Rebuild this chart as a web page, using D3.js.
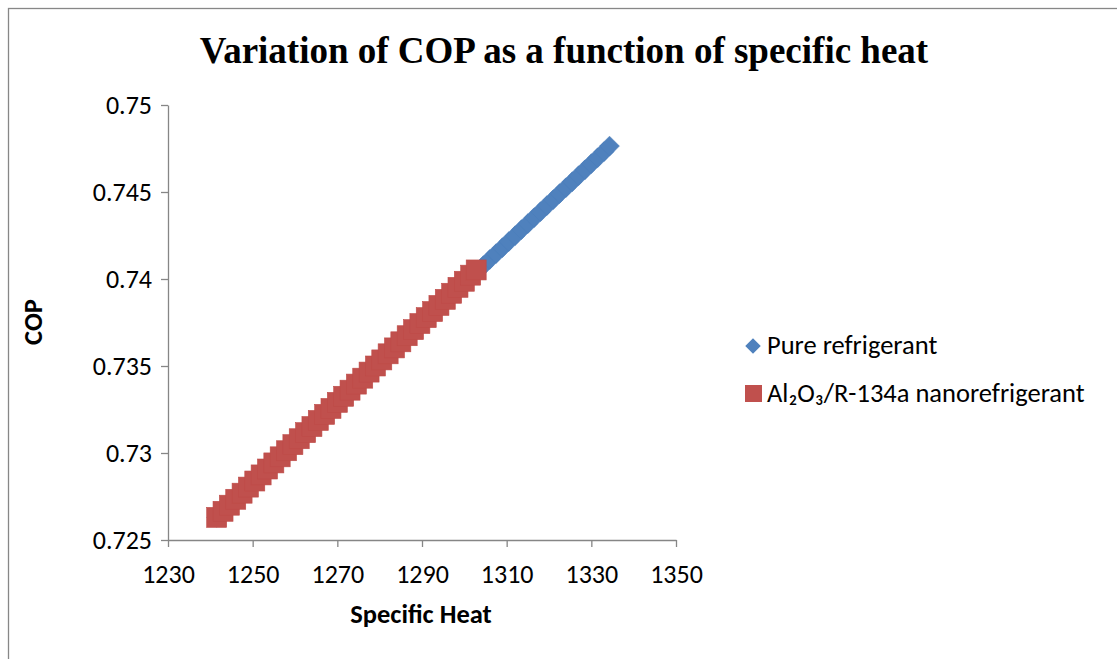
<!DOCTYPE html>
<html lang="en">
<head>
<meta charset="UTF-8">
<title>Variation of COP as a function of specific heat</title>
<style type="text/css">
	body { margin: 0; background: #fff; }
	svg text { font-family: Carlito, Calibri, Lato, sans-serif; fill: #000; }
	.title { font-family: "Liberation Serif", "Times New Roman", serif !important; font-weight: bold; font-size: 37px; }
	.axis text { font-size: 26px; }
	.axis path, .axis line { fill: none; stroke: #868686; stroke-width: 1.3px; }
	.label { font-size: 26.5px; font-weight: bold; }
	.legend text { font-size: 26.5px; }
</style>
<script src="https://cdn.jsdelivr.net/npm/d3@7/dist/d3.min.js"></script>
</head>
<body>
<script type="text/javascript">

// pure refrigerant (blue diamonds)
var pureHeat = [1241.5, 1243.0, 1244.5, 1246.0, 1247.5, 1249.0, 1250.5, 1252.0, 1253.5, 1255.0,
	1256.5, 1258.0, 1259.5, 1261.0, 1262.5, 1264.0, 1265.5, 1267.0, 1268.5, 1270.0,
	1271.5, 1273.0, 1274.5, 1276.0, 1277.5, 1279.0, 1280.5, 1282.0, 1283.5, 1285.0,
	1286.5, 1288.0, 1289.5, 1291.0, 1292.5, 1294.0, 1295.5, 1297.0, 1298.5, 1300.0,
	1301.5, 1303.0, 1304.5, 1306.0, 1307.5, 1309.0, 1310.5, 1312.0, 1313.5, 1315.0,
	1316.5, 1318.0, 1319.5, 1321.0, 1322.5, 1324.0, 1325.5, 1327.0, 1328.5, 1330.0,
	1331.5, 1333.0, 1334.3];
var pureCop = [0.72630, 0.72664, 0.72699, 0.72733, 0.72768, 0.72802, 0.72837, 0.72871, 0.72906, 0.72940,
	0.72975, 0.73009, 0.73043, 0.73078, 0.73112, 0.73147, 0.73181, 0.73216, 0.73250, 0.73285,
	0.73319, 0.73354, 0.73388, 0.73422, 0.73457, 0.73491, 0.73526, 0.73560, 0.73595, 0.73629,
	0.73664, 0.73698, 0.73733, 0.73767, 0.73801, 0.73836, 0.73870, 0.73905, 0.73939, 0.73974,
	0.74008, 0.74043, 0.74077, 0.74112, 0.74146, 0.74180, 0.74215, 0.74249, 0.74284, 0.74318,
	0.74353, 0.74387, 0.74422, 0.74456, 0.74491, 0.74525, 0.74559, 0.74594, 0.74628, 0.74663,
	0.74697, 0.74732, 0.74764];

// Al2O3/R-134a nanorefrigerant (red squares)
var nanoHeat = [1241.5, 1243.0, 1244.5, 1246.0, 1247.5, 1249.0, 1250.5, 1252.0, 1253.5, 1255.0,
	1256.5, 1258.0, 1259.5, 1261.0, 1262.5, 1264.0, 1265.5, 1267.0, 1268.5, 1270.0,
	1271.5, 1273.0, 1274.5, 1276.0, 1277.5, 1279.0, 1280.5, 1282.0, 1283.5, 1285.0,
	1286.5, 1288.0, 1289.5, 1291.0, 1292.5, 1294.0, 1295.5, 1297.0, 1298.5, 1300.0,
	1301.5, 1302.8];
var nanoCop = [0.72630, 0.72665, 0.72700, 0.72734, 0.72769, 0.72804, 0.72839, 0.72874, 0.72908, 0.72943,
	0.72978, 0.73013, 0.73048, 0.73082, 0.73117, 0.73152, 0.73187, 0.73222, 0.73256, 0.73291,
	0.73326, 0.73361, 0.73396, 0.73430, 0.73465, 0.73500, 0.73535, 0.73570, 0.73604, 0.73639,
	0.73674, 0.73709, 0.73744, 0.73778, 0.73813, 0.73848, 0.73883, 0.73918, 0.73952, 0.73987,
	0.74022, 0.74052];

var xTicks = [1230, 1250, 1270, 1290, 1310, 1330, 1350];
var yTicks = [0.725, 0.73, 0.735, 0.74, 0.745, 0.75];
var seriesNames = ['Pure refrigerant', 'Al\u2082O\u2083/R-134a nanorefrigerant'];
var seriesColors = ['#4F81BD', '#C0504D'];

var width = 1117, height = 659;
var margin = {top: 105, left: 168, right: 441, bottom: 119};

var svg = d3.select('body').append('svg')
	.attr('width', width)
	.attr('height', height);

// chart frame
svg.append('rect')
	.attr('x', 8.5).attr('y', 8.5)
	.attr('width', width + 20).attr('height', height + 20)
	.attr('fill', 'none').attr('stroke', '#878787').attr('stroke-width', 1.3);

var x = d3.scaleLinear().domain([1230, 1350]).range([margin.left, width - margin.right]);
var y = d3.scaleLinear().domain([0.725, 0.75]).range([height - margin.bottom, margin.top]);

svg.append('text')
	.attr('class', 'title')
	.attr('x', 564).attr('y', 63)
	.attr('text-anchor', 'middle')
	.text('Variation of COP as a function of specific heat');

var xAxis = d3.axisBottom(x).tickValues(xTicks).tickSize(7).tickSizeOuter(0).tickPadding(18).tickFormat(d3.format('d'));
var yAxis = d3.axisLeft(y).tickValues(yTicks).tickSize(7).tickSizeOuter(0).tickPadding(9).tickFormat(d => String(d));

svg.append('g')
	.attr('class', 'x axis')
	.attr('transform', 'translate(0,' + y(0.725) + ')')
	.call(xAxis);

svg.append('g')
	.attr('class', 'y axis')
	.attr('transform', 'translate(' + x(1230) + ',0)')
	.call(yAxis);

svg.selectAll('.y.axis .tick text').attr('dy', '0.33em');

// axis titles
svg.append('text')
	.attr('class', 'label')
	.attr('x', 421).attr('y', 623)
	.attr('text-anchor', 'middle')
	.text('Specific Heat');

svg.append('text')
	.attr('class', 'label')
	.attr('transform', 'translate(42,322) rotate(-90)')
	.attr('text-anchor', 'middle')
	.text('COP');

var pure = pureHeat.map((h, i) => ({h: h, c: pureCop[i]}));
var nano = nanoHeat.map((h, i) => ({h: h, c: nanoCop[i]}));

svg.selectAll('.pure')
	.data(pure)
	.enter().append('rect')
	.attr('class', 'pure')
	.attr('x', -7).attr('y', -7)
	.attr('width', 14).attr('height', 14)
	.attr('transform', d => 'translate(' + x(d.h) + ',' + y(d.c) + ') rotate(45)')
	.attr('fill', seriesColors[0])
	.attr('stroke', '#4A7EBB').attr('stroke-width', 0.5);

svg.selectAll('.nano')
	.data(nano)
	.enter().append('rect')
	.attr('class', 'nano')
	.attr('x', d => x(d.h) - 10)
	.attr('y', d => y(d.c) - 10)
	.attr('width', 20).attr('height', 20)
	.attr('fill', seriesColors[1])
	.attr('stroke', '#BE4B48').attr('stroke-width', 0.6);

// legend
var legend = svg.append('g').attr('class', 'legend');

legend.append('rect')
	.attr('x', -5.5).attr('y', -5.5)
	.attr('width', 11).attr('height', 11)
	.attr('transform', 'translate(753,346) rotate(45)')
	.attr('fill', seriesColors[0]);

legend.append('rect')
	.attr('x', 745).attr('y', 385)
	.attr('width', 17).attr('height', 17)
	.attr('fill', seriesColors[1]);

legend.selectAll('text')
	.data(seriesNames)
	.enter().append('text')
	.attr('x', 767)
	.attr('y', (d, i) => 354 + i * 48)
	.text(d => d);

</script>
</body>
</html>
